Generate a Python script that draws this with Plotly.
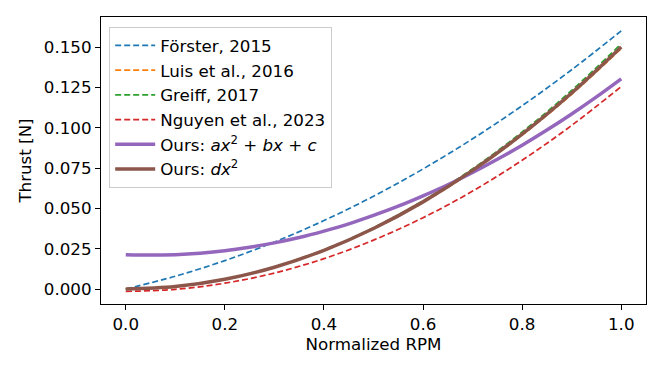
import plotly.graph_objects as go

# normalized rpm samples and thrust values (N)
rpm = [0.0, 0.1, 0.2, 0.3, 0.4, 0.5, 0.6, 0.7, 0.8, 0.9, 1.0]
forster_2015 = [0.0, 0.0079, 0.0176, 0.0291, 0.0424, 0.0575, 0.0744, 0.0931, 0.1136, 0.1359, 0.1600]
luis_2016 = [0.0, 0.0015, 0.0060, 0.0134, 0.0238, 0.0373, 0.0536, 0.0730, 0.0954, 0.1207, 0.1490]
greiff_2017 = [0.0, 0.0015, 0.0061, 0.0137, 0.0243, 0.0380, 0.0547, 0.0745, 0.0973, 0.1231, 0.1520]
nguyen_2023 = [-0.0015, -0.0002, 0.0036, 0.0099, 0.0188, 0.0303, 0.0442, 0.0607, 0.0798, 0.1014, 0.1255]
ours_dx2 = [0.0, 0.0015, 0.0060, 0.0135, 0.0240, 0.0375, 0.0540, 0.0735, 0.0960, 0.1215, 0.1500]

# the offset fit bends near zero, so it is read at a finer step
rpm_fine = [0.0, 0.05, 0.1, 0.15, 0.2, 0.25, 0.3, 0.35, 0.4, 0.45, 0.5,
            0.55, 0.6, 0.65, 0.7, 0.75, 0.8, 0.85, 0.9, 0.95, 1.0]
ours_quad = [0.0213, 0.0210, 0.0213, 0.0222, 0.0237, 0.0259, 0.0286, 0.0319, 0.0359, 0.0404, 0.0456,
             0.0513, 0.0577, 0.0646, 0.0722, 0.0804, 0.0891, 0.0985, 0.1085, 0.1191, 0.1303]

x_ticks = [0.0, 0.2, 0.4, 0.6, 0.8, 1.0]
y_ticks = [0.0, 0.025, 0.05, 0.075, 0.1, 0.125, 0.15]

FONT = "DejaVu Sans"
FS = 16.7

series = [
    ("Förster, 2015", rpm, forster_2015, "#1f77b4", "dash"),
    ("Luis et al., 2016", rpm, luis_2016, "#ff7f0e", "dash"),
    ("Greiff, 2017", rpm, greiff_2017, "#2ca02c", "dash"),
    ("Nguyen et al., 2023", rpm, nguyen_2023, "#d62728", "dash"),
    ("Ours: <i>ax</i><sup>2</sup> + <i>bx</i> + <i>c</i>", rpm_fine, ours_quad, "#9467bd", "solid"),
    ("Ours: <i>dx</i><sup>2</sup>", rpm, ours_dx2, "#8c564b", "solid"),
]

fig = go.Figure()
for name, xs, vals, colour, style in series:
    dashed = style == "dash"
    fig.add_trace(
        go.Scatter(
            x=xs,
            y=vals,
            mode="lines",
            name=name,
            line=dict(
                color=colour,
                width=1.7 if dashed else 3.5,
                dash="6px,3px" if dashed else "solid",
                shape="spline",
            ),
        )
    )

axis_style = dict(
    showgrid=False,
    zeroline=False,
    showline=True,
    linecolor="black",
    linewidth=1.1,
    mirror=True,
    ticks="outside",
    ticklen=5,
    tickwidth=1,
    tickcolor="black",
    tickfont=dict(family=FONT, size=FS, color="black"),
)

fig.update_xaxes(
    range=[-0.05, 1.05],
    tickvals=x_ticks,
    ticktext=[f"{v:.1f}" for v in x_ticks],
    title=dict(text="Normalized RPM", font=dict(family=FONT, size=FS, color="black"), standoff=5),
    **axis_style,
)
fig.update_yaxes(
    range=[-0.0093, 0.1686],
    tickvals=y_ticks,
    ticktext=[f"{v:.3f}" for v in y_ticks],
    title=dict(text="Thrust [N]", font=dict(family=FONT, size=FS, color="black"), standoff=7),
    **axis_style,
)

# the page body adds an 8px offset, so margins are trimmed on the top/left
fig.update_layout(
    width=664,
    height=375,
    margin=dict(l=93, r=26, t=9, b=79),
    paper_bgcolor="white",
    plot_bgcolor="white",
    font=dict(family=FONT, size=FS, color="black"),
    legend=dict(
        x=0.015,
        y=0.965,
        xanchor="left",
        yanchor="top",
        bgcolor="rgba(255,255,255,0.8)",
        bordercolor="#cccccc",
        borderwidth=1,
        font=dict(family=FONT, size=FS, color="black"),
        itemwidth=40,
    ),
    showlegend=True,
)

fig.write_html("out.html")
